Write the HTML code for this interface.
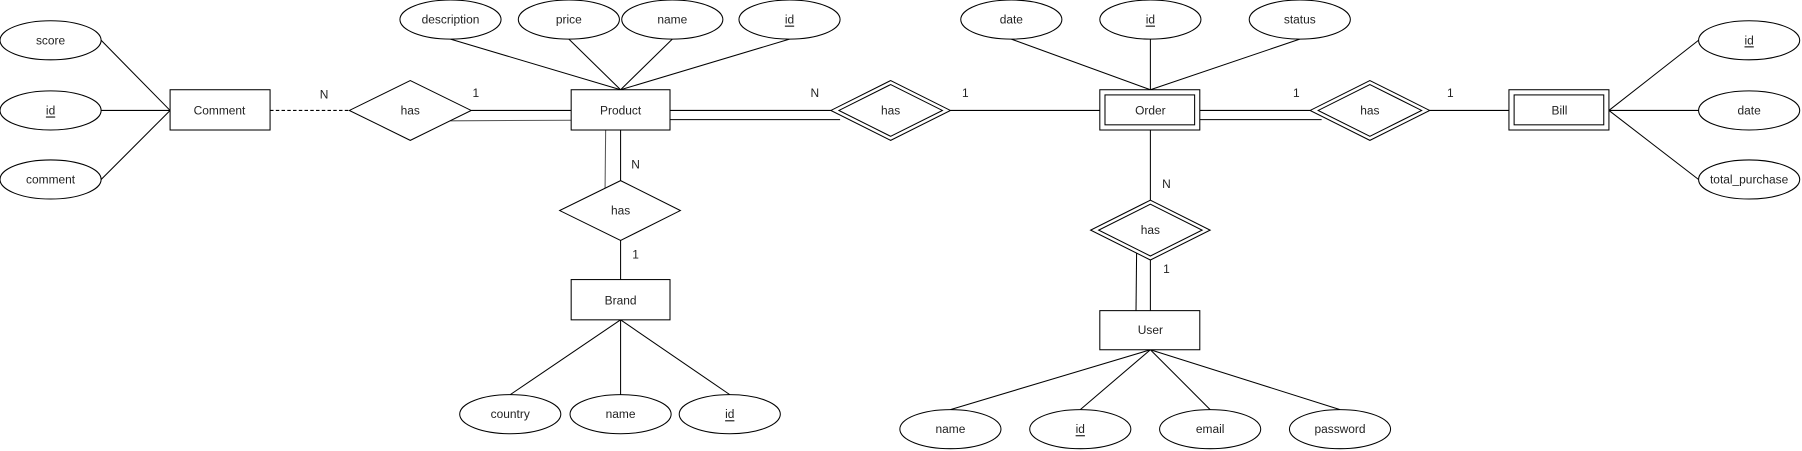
<!DOCTYPE html>
<html><head><meta charset="utf-8"><style>
html,body{margin:0;padding:0;background:#fff;}
svg{display:block;}
text{font-family:"Liberation Sans",sans-serif;font-size:10.4px;fill:#222;text-anchor:middle;dominant-baseline:central;}
</style></head><body>
<svg width="1802" height="451" viewBox="0 0 1568 392" preserveAspectRatio="none" xmlns="http://www.w3.org/2000/svg">
<g stroke="#000" stroke-width="0.9" fill="none">
<!-- Comment attr lines -->
<line x1="88" y1="35" x2="148" y2="96"/><line x1="88" y1="96" x2="148" y2="96"/><line x1="88" y1="156" x2="148" y2="96"/>
<!-- dashed -->
<line x1="235" y1="96" x2="304" y2="96" stroke-dasharray="3,2"/>
<!-- has to Product double -->
<line x1="410" y1="96" x2="497" y2="96"/><line x1="392" y1="105" x2="497" y2="104.5" stroke="#555"/>
<!-- Product attrs -->
<line x1="392" y1="34" x2="540" y2="78"/><line x1="495" y1="34" x2="540" y2="78"/><line x1="585" y1="34" x2="540" y2="78"/><line x1="687" y1="34" x2="540" y2="78"/>
<!-- Product to order-has -->
<line x1="583" y1="96" x2="723" y2="96"/><line x1="583" y1="104" x2="731" y2="104"/>
<line x1="827" y1="96" x2="957" y2="96"/>
<!-- Product-Brand -->
<line x1="540" y1="113" x2="540" y2="157"/><line x1="527" y1="113" x2="526.5" y2="164" stroke="#555"/>
<line x1="540" y1="209" x2="540" y2="243"/>
<line x1="540" y1="278" x2="444" y2="343"/><line x1="540" y1="278" x2="540" y2="343"/><line x1="540" y1="278" x2="635" y2="343"/>
<!-- Order attrs -->
<line x1="880" y1="34" x2="1001" y2="78"/><line x1="1001" y1="34" x2="1001" y2="78"/><line x1="1131" y1="34" x2="1001" y2="78"/>
<!-- Order-Bill -->
<line x1="1044" y1="96" x2="1140" y2="96"/><line x1="1044" y1="104" x2="1150" y2="104"/>
<line x1="1243" y1="96" x2="1313" y2="96"/>
<line x1="1400" y1="96" x2="1478" y2="35"/><line x1="1400" y1="96" x2="1478" y2="96"/><line x1="1400" y1="96" x2="1478" y2="156"/>
<!-- Order-User -->
<line x1="1001" y1="113" x2="1001" y2="174"/>
<line x1="1001" y1="226" x2="1001" y2="270"/><line x1="989" y1="220" x2="988.5" y2="270"/>
<line x1="1001" y1="304" x2="827" y2="356"/><line x1="1001" y1="304" x2="940" y2="356"/><line x1="1001" y1="304" x2="1053" y2="356"/><line x1="1001" y1="304" x2="1166" y2="356"/>
</g>
<g stroke="#000" stroke-width="0.9" fill="#fff">
<!-- ellipses -->
<ellipse cx="44" cy="35" rx="44" ry="17"/><ellipse cx="44" cy="96" rx="44" ry="17"/><ellipse cx="44" cy="156" rx="44" ry="17"/>
<ellipse cx="392" cy="17" rx="44" ry="17"/><ellipse cx="495" cy="17" rx="44" ry="17"/><ellipse cx="585" cy="17" rx="44" ry="17"/><ellipse cx="687" cy="17" rx="44" ry="17"/>
<ellipse cx="444" cy="360" rx="44" ry="17"/><ellipse cx="540" cy="360" rx="44" ry="17"/><ellipse cx="635" cy="360" rx="44" ry="17"/>
<ellipse cx="880" cy="17" rx="44" ry="17"/><ellipse cx="1001" cy="17" rx="44" ry="17"/><ellipse cx="1131" cy="17" rx="44" ry="17"/>
<ellipse cx="1522" cy="35" rx="44" ry="17"/><ellipse cx="1522" cy="96" rx="44" ry="17"/><ellipse cx="1522" cy="156" rx="44" ry="17"/>
<ellipse cx="827" cy="373" rx="44" ry="17"/><ellipse cx="940" cy="373" rx="44" ry="17"/><ellipse cx="1053" cy="373" rx="44" ry="17"/><ellipse cx="1166" cy="373" rx="44" ry="17"/>
<!-- rects -->
<rect x="148" y="78" width="87" height="35"/>
<rect x="497" y="78" width="86" height="35"/>
<rect x="497" y="243" width="86" height="35"/>
<rect x="957" y="270" width="87" height="34"/>
<rect x="957" y="78" width="87" height="35"/><rect x="961.5" y="82.5" width="78" height="26"/>
<rect x="1313" y="78" width="87" height="35"/><rect x="1317.5" y="82.5" width="78" height="26"/>
<!-- diamonds -->
<polygon points="357,70 410,96 357,122 304,96"/>
<polygon points="540,157 592,183 540,209 487,183"/>
<polygon points="775,70 827,96 775,122 723,96"/><polygon points="775,73.5 820,96 775,118.5 730,96" fill="none"/>
<polygon points="1192,70 1244,96 1192,122 1140,96"/><polygon points="1192,73.5 1237,96 1192,118.5 1147,96" fill="none"/>
<polygon points="1001,174 1053,200 1001,226 949,200"/><polygon points="1001,177.5 1046,200 1001,222.5 956,200" fill="none"/>
</g>
<g>
<text x="44" y="35">score</text><text x="44" y="96" text-decoration="underline">id</text><text x="44" y="156">comment</text>
<text x="191" y="96">Comment</text>
<text x="357" y="96">has</text>
<text x="540" y="96">Product</text>
<text x="392" y="17">description</text><text x="495" y="17">price</text><text x="585" y="17">name</text><text x="687" y="17" text-decoration="underline">id</text>
<text x="540" y="183">has</text>
<text x="540" y="261">Brand</text>
<text x="444" y="360">country</text><text x="540" y="360">name</text><text x="635" y="360" text-decoration="underline">id</text>
<text x="775" y="96">has</text>
<text x="1001" y="96">Order</text>
<text x="880" y="17">date</text><text x="1001" y="17" text-decoration="underline">id</text><text x="1131" y="17">status</text>
<text x="1192" y="96">has</text>
<text x="1357" y="96">Bill</text>
<text x="1522" y="35" text-decoration="underline">id</text><text x="1522" y="96">date</text><text x="1522" y="156">total_purchase</text>
<text x="1001" y="200">has</text>
<text x="1001" y="287">User</text>
<text x="827" y="373">name</text><text x="940" y="373" text-decoration="underline">id</text><text x="1053" y="373">email</text><text x="1166" y="373">password</text>
<text x="282" y="82">N</text><text x="414" y="81">1</text>
<text x="709" y="81">N</text><text x="840" y="81">1</text>
<text x="1128" y="81">1</text><text x="1262" y="81">1</text>
<text x="553" y="143">N</text><text x="553" y="221">1</text>
<text x="1015" y="160">N</text><text x="1015" y="234">1</text>
</g>
</svg>
</body></html>
